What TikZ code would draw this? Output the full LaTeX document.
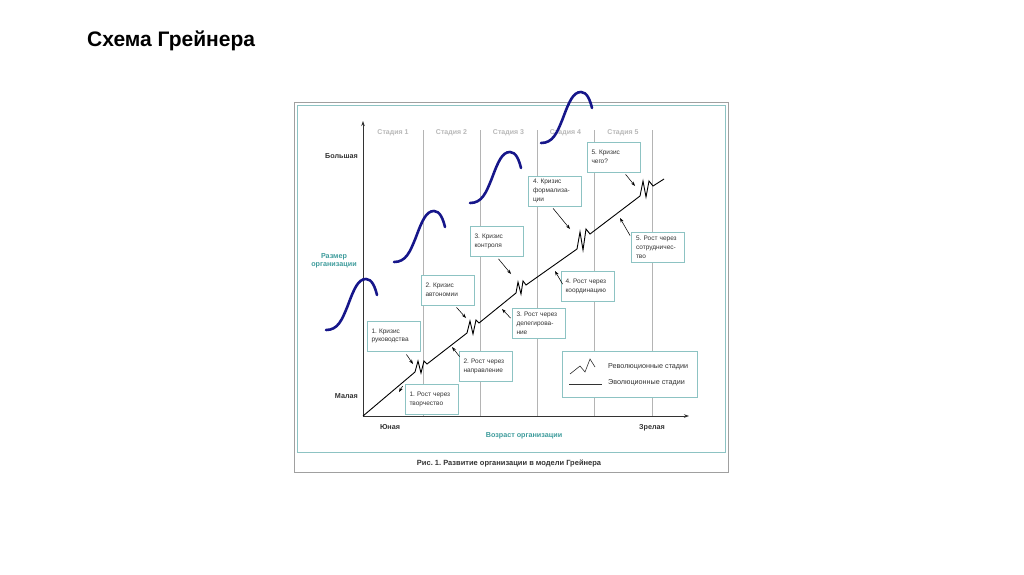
\documentclass[tikz,border=0pt]{standalone}
\usepackage{fontspec}
\setmainfont{Liberation Sans}
\usetikzlibrary{arrows.meta,calc}
\definecolor{boxc}{HTML}{8DC3C3}
\definecolor{tealt}{HTML}{3E9C9C}
\definecolor{stgc}{HTML}{B8B8B8}
\definecolor{txt}{HTML}{333333}
\definecolor{navy}{HTML}{16168A}
\definecolor{gridc}{HTML}{B4B4B4}
\definecolor{framec}{HTML}{A0A0A0}
\frenchspacing
\begin{document}
\begin{tikzpicture}[x=1pt,y=-1pt,
  box/.style={draw=boxc, fill=white, line width=0.8pt, minimum width=53pt, minimum height=30pt,
    text width=44pt, inner xsep=4.5pt, inner ysep=0pt, align=left,
    font=\fontsize{6.5}{8.8}\selectfont, text=txt},
  lab/.style={font=\bfseries\fontsize{7.2}{8.5}\selectfont, text=txt, inner sep=0pt},
  tlab/.style={font=\bfseries\fontsize{7.2}{8.5}\selectfont, text=tealt, inner sep=0pt, align=center},
  stg/.style={font=\bfseries\fontsize{7}{8}\selectfont, text=stgc, inner sep=0pt},
  ptr/.style={-{Stealth[length=4.5pt,width=3.2pt]}, line width=0.55pt, black},
  axis/.style={-{Stealth[length=5pt,width=3.5pt]}, line width=0.8pt, txt},
  scurve/.style={draw=navy, line width=2.6pt, line cap=round},
  gridline/.style={draw=gridc, line width=0.7pt},
  legtext/.style={font=\fontsize{7.2}{8}\selectfont, text=txt, anchor=west, inner sep=0pt}]
\useasboundingbox (0,0) rectangle (1024,574);
\fill[white] (0,0) rectangle (1024,574);

% title
\node[anchor=base west, font=\bfseries\fontsize{21}{24}\selectfont, inner sep=0pt] (title) at (87,46) {Схема Грейнера};

% panel
\draw[framec, line width=0.6pt] (294,102) rectangle (728,472);
\draw[boxc, line width=1pt] (297,105) rectangle (725,452);

% stage lines
\foreach \x in {423,480,537,594,652} \draw[gridline] (\x,130) -- (\x,416);

% stage labels
\node[stg] (s1) at (393,133) {Стадия 1};
\node[stg] (s2) at (451.5,133) {Стадия 2};
\node[stg] (s3) at (508.5,133) {Стадия 3};
\node[stg] (s4) at (565.5,133) {Стадия 4};
\node[stg] (s5) at (623,133) {Стадия 5};

% axes
\coordinate (O) at (363,416);
\coordinate (Ytop) at (363,121);
\coordinate (Xend) at (689,416);
\draw[axis] (O) -- (Ytop);
\draw[axis] (O) -- (Xend);

% axis labels
\node[lab, anchor=east] (big) at (358,156) {Большая};
\node[lab, anchor=east] (small) at (358,396) {Малая};
\node[tlab] (size) at (334,261) {Размер\\[-1pt]организации};
\node[lab] (young) at (390,427) {Юная};
\node[lab] (mature) at (652,428) {Зрелая};
\node[tlab] (age) at (524,436) {Возраст организации};
\node[font=\bfseries\fontsize{7.5}{9}\selectfont, text=txt, inner sep=0pt] (cap) at (509,463) {Рис. 1. Развитие организации в модели Грейнера};

% growth line with revolutionary zigzags
\draw[line width=0.9pt, black, line join=miter]
  (O) -- (415,372) -- (418,361) -- (421,373) -- (424,361) -- (427,364)
  -- (467,333) -- (470,321) -- (473,334) -- (476,320) -- (479,323)
  -- (516,293) -- (518,282) -- (521,294) -- (523,281) -- (526,285)
  -- (577,249) -- (580,232) -- (583,250) -- (586,229) -- (590,234)
  -- (640,196) -- (643,181) -- (646,197) -- (649,181) -- (653,186)
  -- (664,179);

% targets on the line
\coordinate (tk1) at (413,364);
\coordinate (tr1) at (399,392);
\coordinate (tk2) at (466,318);
\coordinate (tr2) at (452,347);
\coordinate (tk3) at (511,274);
\coordinate (tr3) at (502,309);
\coordinate (tk4) at (570,229);
\coordinate (tr4) at (555,271);
\coordinate (tk5) at (635,186);
\coordinate (tr5) at (620,218);

% boxes
\node[box] (k1) at (393.5,336) {1. Кризис\\руководства};
\node[box] (k2) at (447.5,290) {2. Кризис\\автономии};
\node[box] (k3) at (496.5,241.5) {3. Кризис\\контроля};
\node[box] (k4) at (555,191) {4. Кризис\\формализа-\\ции};
\node[box] (k5) at (613.5,157) {5. Кризис\\чего?};
\node[box] (r1) at (431.5,399.5) {1. Рост через\\творчество};
\node[box] (r2) at (485.5,366) {2. Рост через\\направление};
\node[box] (r3) at (538.5,323.5) {3. Рост через\\делегирова-\\ние};
\node[box] (r4) at (587.5,286.5) {4. Рост через\\координацию};
\node[box] (r5) at (658,247) {5. Рост через\\сотрудничес-\\тво};

% pointers
\draw[ptr] ($(k1.south east)+(-14,3)$) -- (tk1);
\draw[ptr] ($(r1.north west)+(-2,2)$) -- (tr1);
\draw[ptr] ($(k2.south)+(9,2)$) -- (tk2);
\draw[ptr] ($(r2.north west)+(1,6)$) -- (tr2);
\draw[ptr] ($(k3.south)+(2,2)$) -- (tk3);
\draw[ptr] ($(r3.north west)+(-1,10)$) -- (tr3);
\draw[ptr] ($(k4.south west)+(25,2)$) -- (tk4);
\draw[ptr] ($(r4.north west)+(2,13)$) -- (tr4);
\draw[ptr] ($(k5.south west)+(39,2)$) -- (tk5);
\draw[ptr] ($(r5.north west)+(-1,4)$) -- (tr5);

% legend
\node[box, minimum width=135pt, minimum height=46pt, text width=125pt] (lg) at (629.5,374) {};
\draw[line width=0.6pt, txt] (570,374) -- (580,366) -- (585,372) -- (590,359) -- (595,367);
\draw[line width=0.8pt, txt] (569,384) -- (602,384);
\node[legtext] (lrev) at (608,367) {Революционные стадии};
\node[legtext] (levo) at (608,383) {Эволюционные стадии};

% S-curves
\foreach \sx/\sy in {326/330, 394/262, 470/203, 541/143}
  \draw[scurve, shift={(\sx,\sy)}] (0,0) .. controls (12,0) and (16,-10) .. (22,-25)
    .. controls (28,-41) and (32,-51) .. (40,-51)
    .. controls (46,-51) and (49,-43) .. (51,-35);
\end{tikzpicture}
\end{document}
